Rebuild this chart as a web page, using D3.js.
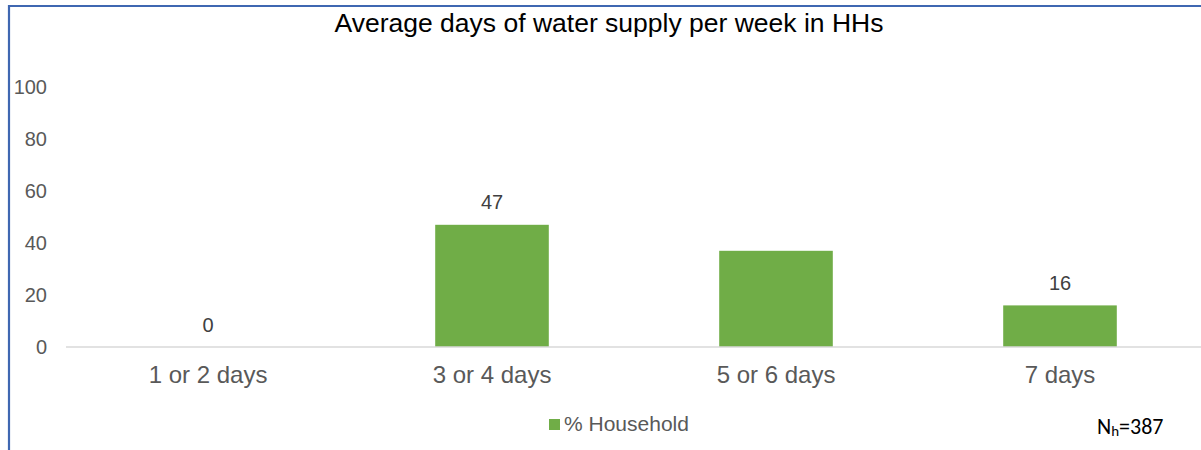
<!DOCTYPE html>
<html>
<head>
<meta charset="utf-8">
<script src="https://cdn.jsdelivr.net/npm/d3@7"></script>
<style>
  body { margin: 0; background: #fff; }
  svg { display: block; font-family: "Liberation Sans", Arial, sans-serif; }
</style>
</head>
<body>
<div id="chart"></div>
<script>
  //Chart data
  const categories = ["1 or 2 days", "3 or 4 days", "5 or 6 days", "7 days"];
  const values = [0, 47, 37, 16];
  const showLabel = [true, true, false, true];
  const yTicks = [0, 20, 40, 60, 80, 100];
  const seriesName = "% Household";
  const title = "Average days of water supply per week in HHs";

  //Dimensions
  let width = 1201, height = 450;
  let plot = {left: 66, right: 1202, top: 87, bottom: 347};

  let svg = d3.select("#chart").append("svg")
    .attr("width", width)
    .attr("height", height);

  //Frame lines (left and top only)
  svg.append("path")
    .attr("d", "M9,450 V6 H1201")
    .attr("fill", "none")
    .attr("stroke", "#3F67B1")
    .attr("stroke-width", 2.2);

  //Scales
  let x = d3.scaleBand()
    .domain(categories)
    .range([plot.left, plot.right])
    .paddingInner(0.6)
    .paddingOuter(0.3);

  let y = d3.scaleLinear()
    .domain([0, 100])
    .range([plot.bottom, plot.top]);

  //Title
  svg.append("text")
    .attr("x", 609)
    .attr("y", 32)
    .attr("text-anchor", "middle")
    .attr("font-size", "26.5px")
    .attr("fill", "#000")
    .text(title);

  //Y axis labels
  let yAxis = d3.axisLeft(y).tickValues(yTicks).tickSize(0).tickPadding(0);
  let yG = svg.append("g")
    .attr("transform", "translate(47,0)")
    .call(yAxis);
  yG.select(".domain").remove();
  yG.selectAll("text")
    .attr("font-size", "20px")
    .attr("fill", "#595959")
    .attr("font-family", "Liberation Sans, Arial, sans-serif");

  //Bars
  svg.selectAll(".bar")
    .data(values)
    .enter()
    .append("rect")
      .attr("class", "bar")
      .attr("x", function(d, i) { return x(categories[i]); })
      .attr("width", x.bandwidth())
      .attr("y", function(d) { return y(d); })
      .attr("height", function(d) { return y(0) - y(d); })
      .attr("fill", "#70AD47");

  //Baseline
  svg.append("line")
    .attr("x1", plot.left).attr("x2", plot.right)
    .attr("y1", y(0)).attr("y2", y(0))
    .attr("stroke", "#D9D9D9")
    .attr("stroke-width", 1.5);

  //X axis labels
  let xAxis = d3.axisBottom(x).tickSize(0).tickPadding(0);
  let xG = svg.append("g")
    .attr("transform", "translate(0," + (y(0) + 19) + ")")
    .call(xAxis);
  xG.select(".domain").remove();
  xG.selectAll("text")
    .attr("font-size", "24px")
    .attr("fill", "#595959")
    .attr("font-family", "Liberation Sans, Arial, sans-serif");

  //Data labels
  let labelled = values.map(function(v, i) { return {v: v, c: categories[i], show: showLabel[i]}; })
    .filter(function(d) { return d.show; });

  svg.selectAll(".label")
    .data(labelled)
    .enter()
    .append("text")
      .attr("class", "label")
      .attr("x", function(d) { return x(d.c) + x.bandwidth() / 2; })
      .attr("y", function(d) { return y(d.v) - 15.5; })
      .attr("text-anchor", "middle")
      .attr("font-size", "20px")
      .attr("fill", "#404040")
      .text(function(d) { return d.v; });

  //Legend
  let legend = svg.append("g").attr("transform", "translate(549,419)");
  legend.append("rect")
    .attr("width", 11).attr("height", 11)
    .attr("fill", "#70AD47");
  legend.append("text")
    .attr("x", 15).attr("y", 12)
    .attr("font-size", "21px")
    .attr("fill", "#595959")
    .text(seriesName);

  //Sample size note
  let note = svg.append("text")
    .attr("x", 1097).attr("y", 434)
    .attr("font-size", "22px")
    .attr("fill", "#000")
    .attr("font-family", "Carlito, 'Liberation Sans', sans-serif");
  note.append("tspan").text("N");
  note.append("tspan").attr("font-size", "15px").attr("dy", 2).text("h");
  note.append("tspan").attr("dy", -2).text("=387");
</script>
</body>
</html>
